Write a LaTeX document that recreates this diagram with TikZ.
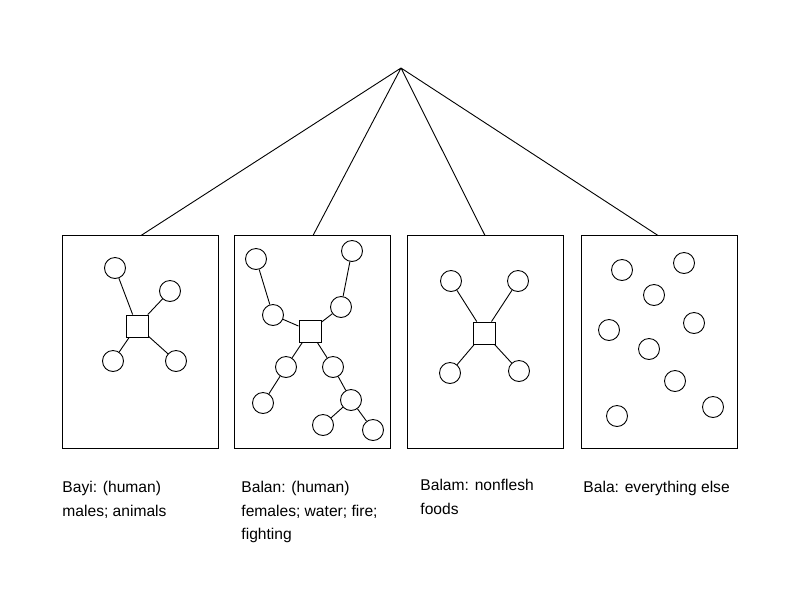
\documentclass[tikz,border=0pt]{standalone}
\usepackage{fontspec}
\setmainfont{Liberation Sans}
\begin{document}
\begin{tikzpicture}[x=1pt,y=-1pt,line width=0.9pt,
  panel/.style={draw,line width=1pt,minimum width=156pt,minimum height=213pt,inner sep=0pt},
  c/.style={draw,circle,minimum size=21pt,inner sep=0pt,fill=white},
  sq/.style={draw,minimum size=22pt,inner sep=0pt,fill=white},
  lab/.style={anchor=north west,align=left,font=\fontsize{15.6}{23.5}\selectfont,inner sep=0pt}]
\useasboundingbox (0,0) rectangle (794,595);
\coordinate (apex) at (401,68);
\node[panel] (p1) at (140,341.5) {};
\node[panel] (p2) at (312,341.5) {};
\node[panel] (p3) at (485,341.5) {};
\node[panel] (p4) at (659,341.5) {};
\draw (apex) -- (141,235.5) (apex) -- (313,235.5) (apex) -- (485,235.5) (apex) -- (658,235.5);
% panel 1
\node[sq] (s1) at (137,326) {};
\foreach \n/\x/\y in {a/115/268,b/170/291,c/113/361,d/176/361}{\node[c] (p1\n) at (\x,\y) {}; \draw (s1) -- (p1\n);}
% panel 2
\node[sq] (s2) at (310,331) {};
\foreach \n/\x/\y in {a/256/259,b/352/251,c/273/315,d/341/307,e/286/367,f/333/367,g/263/403,h/351/400,i/323/425,j/373/430}{\node[c] (p2\n) at (\x,\y) {};}
\draw (p2a)--(p2c)--(s2) (p2b)--(p2d)--(s2) (s2)--(p2e)--(p2g) (s2)--(p2f)--(p2h)--(p2i) (p2h)--(p2j);
% panel 3
\node[sq] (s3) at (484,333) {};
\foreach \n/\x/\y in {a/451/281,b/518/281,c/450/373,d/519/371}{\node[c] (p3\n) at (\x,\y) {}; \draw (s3) -- (p3\n);}
% panel 4
\foreach \n/\x/\y in {a/622/270,b/684/263,c/654/295,d/609/330,e/694/323,f/649/349,g/675/381,h/617/416,i/713/407}{\node[c] (p4\n) at (\x,\y) {};}
% labels
\node[lab] (l1) at (62,481) {Bayi: (human)\\males; animals};
\node[lab] (l2) at (241,481) {Balan: (human)\\females; water; fire;\\fighting};
\node[lab] (l3) at (420,479) {Balam: nonflesh\\foods};
\node[lab] (l4) at (583,481) {Bala: everything else};
\end{tikzpicture}
\end{document}
